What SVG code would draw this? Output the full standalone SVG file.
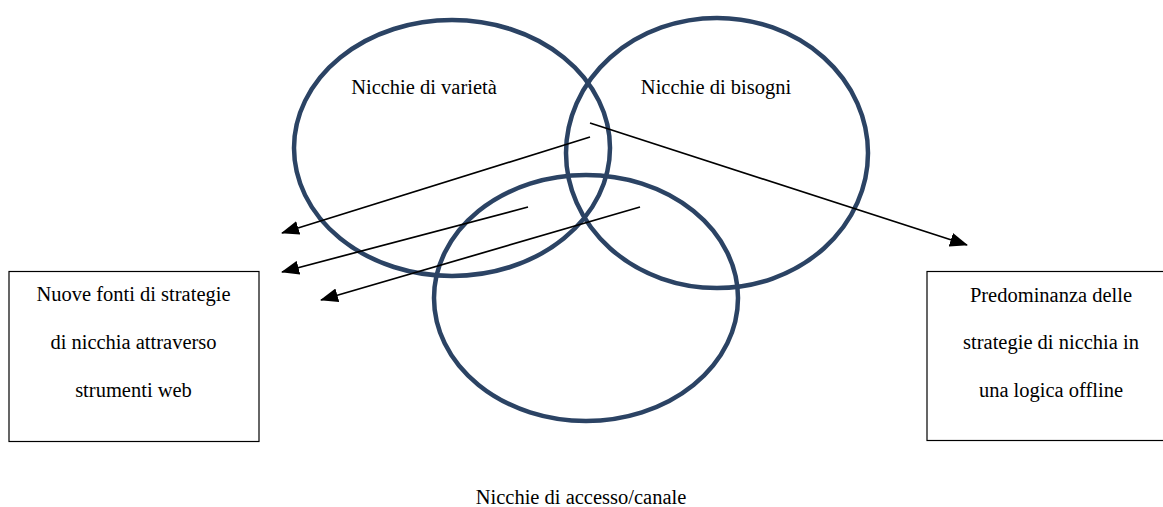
<svg xmlns="http://www.w3.org/2000/svg" width="1163" height="507" viewBox="0 0 1163 507">
<defs>
<style>
.ell{fill:none;stroke:#2b4364;stroke-width:4.5}
.box{fill:#fff;stroke:#000;stroke-width:1.2}
.t{font-family:"Liberation Serif","Times New Roman",serif;font-size:20.5px;fill:#000;text-anchor:middle}
.con{stroke:#000;stroke-width:1.7;fill:none;marker-end:url(#ah)}
</style>
<marker id="ah" markerWidth="18" markerHeight="14" refX="17" refY="7" orient="auto" markerUnits="userSpaceOnUse">
<path d="M0,0 L18,7 L0,14 Z" fill="#000"/>
</marker>
</defs>
<rect width="1163" height="507" fill="#fff"/>
<g id="n-varieta">
<ellipse class="ell" cx="452" cy="148" rx="158" ry="128"/>
<text class="t" x="424" y="94">Nicchie di varietà</text>
</g>
<g id="n-bisogni">
<ellipse class="ell" cx="717" cy="153" rx="151" ry="135"/>
<text class="t" x="716" y="94">Nicchie di bisogni</text>
</g>
<g id="n-accesso">
<ellipse class="ell" cx="586" cy="298" rx="152" ry="123"/>
<text class="t" x="581" y="504">Nicchie di accesso/canale</text>
</g>
<g id="n-web">
<rect class="box" x="9" y="271.5" width="250" height="170"/>
<text class="t" x="133.5" y="301">Nuove fonti di strategie</text>
<text class="t" x="133.5" y="349">di nicchia attraverso</text>
<text class="t" x="133.5" y="397">strumenti web</text>
</g>
<g id="n-offline">
<rect class="box" x="927" y="271.5" width="240" height="169"/>
<text class="t" x="1051" y="302">Predominanza delle</text>
<text class="t" x="1051" y="349">strategie di nicchia in</text>
<text class="t" x="1051" y="397">una logica offline</text>
</g>
<g id="connectors">
<line class="con" x1="590" y1="137" x2="282" y2="233"/>
<line class="con" x1="528" y1="207" x2="282" y2="272"/>
<line class="con" x1="640" y1="207" x2="321" y2="300"/>
<line class="con" x1="590" y1="123" x2="967" y2="245"/>
</g>
</svg>
